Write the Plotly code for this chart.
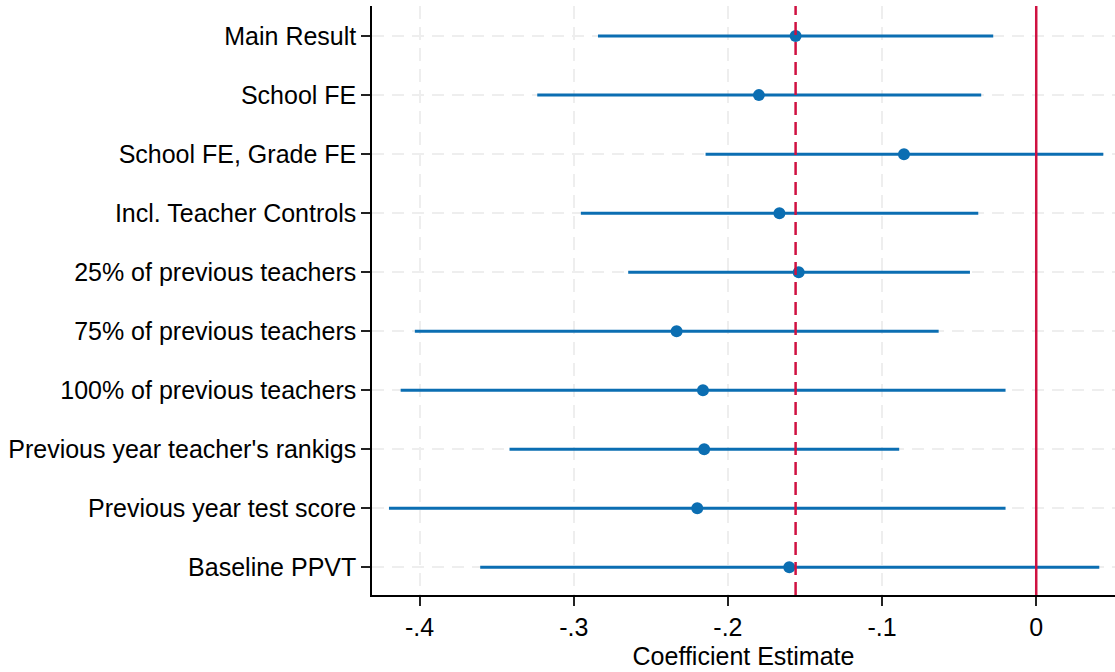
import plotly.graph_objects as go

labels = [
    "Main Result",
    "School FE",
    "School FE, Grade FE",
    "Incl. Teacher Controls",
    "25% of previous teachers",
    "75% of previous teachers",
    "100% of previous teachers",
    "Previous year teacher's rankigs",
    "Previous year test score",
    "Baseline PPVT",
]
estimate = [-0.1561, -0.1799, -0.0858, -0.1666, -0.1541, -0.2333, -0.2162, -0.2154, -0.2199, -0.1602]
ci_low = [-0.2843, -0.3237, -0.2145, -0.2954, -0.2647, -0.4031, -0.4123, -0.3417, -0.4199, -0.3607]
ci_high = [-0.0279, -0.0357, 0.0435, -0.0376, -0.0430, -0.0633, -0.0199, -0.0889, -0.0199, 0.0409]

x_ticks = [-0.4, -0.3, -0.2, -0.1, 0.0]
x_tick_text = ["-.4", "-.3", "-.2", "-.1", "0"]
ref_zero = 0.0
ref_main = estimate[0]

rows = list(range(1, len(labels) + 1))
blue = "#0b6eb2"
red = "#cf1141"
font_family = "Liberation Sans, Arial, Helvetica, sans-serif"

fig = go.Figure()

# reference lines on an overlaid axis spanning the full plot height
fig.add_trace(go.Scatter(
    x=[ref_zero, ref_zero], y=[0, 1], yaxis="y2", mode="lines",
    line=dict(color=red, width=2.5), showlegend=False, hoverinfo="skip",
))
fig.add_trace(go.Scatter(
    x=[ref_main, ref_main], y=[0, 1], yaxis="y2", mode="lines",
    line=dict(color=red, width=2.5, dash="13px,7px"), showlegend=False, hoverinfo="skip",
))

fig.add_trace(go.Scatter(
    x=estimate,
    y=rows,
    mode="markers",
    marker=dict(color=blue, size=12),
    error_x=dict(
        type="data",
        symmetric=False,
        array=[h - e for h, e in zip(ci_high, estimate)],
        arrayminus=[e - l for e, l in zip(estimate, ci_low)],
        color=blue,
        thickness=3,
        width=0,
    ),
    showlegend=False,
    hoverinfo="skip",
))

fig.update_layout(
    width=1115,
    height=672,
    margin=dict(l=372, r=0, t=6, b=77),
    paper_bgcolor="white",
    plot_bgcolor="white",
    font=dict(family=font_family, size=25, color="black"),
    xaxis=dict(
        range=[-0.4309, 0.0511],
        tickvals=x_ticks,
        ticktext=x_tick_text,
        ticks="outside",
        ticklen=9,
        tickwidth=1.5,
        tickcolor="#222222",
        showline=True,
        linecolor="black",
        linewidth=1.5,
        showgrid=True,
        gridcolor="#eeeeee",
        gridwidth=2,
        griddash="13px,8px",
        zeroline=False,
        tickfont=dict(size=25),
        title=dict(text="Coefficient Estimate", font=dict(size=25), standoff=8),
    ),
    yaxis=dict(
        range=[10.47, 0.49],
        tickvals=rows,
        ticktext=labels,
        ticks="outside",
        ticklen=9,
        tickwidth=1.5,
        tickcolor="#222222",
        showline=True,
        linecolor="black",
        linewidth=1.5,
        showgrid=True,
        gridcolor="#eeeeee",
        gridwidth=2,
        griddash="12px,8px",
        zeroline=False,
        tickfont=dict(size=25),
    ),
    yaxis2=dict(
        overlaying="y",
        range=[0, 1],
        visible=False,
        showgrid=False,
        zeroline=False,
    ),
)

fig.write_html(
    "out.html",
    config={"displayModeBar": False},
    post_script="document.body.style.margin='0';",
)
